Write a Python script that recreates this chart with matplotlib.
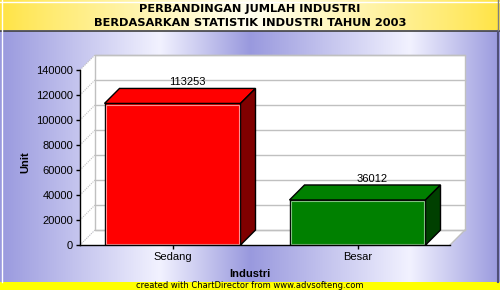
import numpy as np
import matplotlib.pyplot as plt
from matplotlib.patches import Polygon, Rectangle

# data
categories = ["Sedang", "Besar"]
values = [113253, 36012]
face_colors = ["#ff0000", "#008000"]
side_colors = ["#800000", "#004000"]
light_edges = ["#ff9090", "#80c080"]
y_ticks = [0, 20000, 40000, 60000, 80000, 100000, 120000, 140000]

title_lines = ["PERBANDINGAN JUMLAH INDUSTRI",
               "BERDASARKAN STATISTIK INDUSTRI TAHUN 2003"]
footer = "created with ChartDirector from www.advsofteng.com"

W, H = 500, 290
fig = plt.figure(figsize=(W / 100, H / 100), dpi=100)

# ---- background panels (pixel coords) ----
bg = fig.add_axes([0, 0, 1, 1], zorder=-10)
bg.set_xlim(0, W)
bg.set_ylim(H, 0)
bg.axis("off")

xs = np.arange(W) + 0.5
dark = np.array([0.60, 0.60, 0.87])
light = np.array([0.95, 0.95, 1.00])
t = np.interp(xs, [0, 160, 250, 410, 500], [0, 1, 0, 1, 0])
row = dark + (light - dark) * t[:, None]
bg.imshow(np.tile(row[None], (4, 1, 1)), extent=[0, W, 282, 31],
          aspect="auto", interpolation="bilinear")

yel = np.array([1.0, 0.89, 0.25])
pale = np.array([1.0, 1.0, 0.94])
t2 = np.interp(xs, [0, 250, 500], [0, 1, 0]) ** 0.8
row2 = yel + (pale - yel) * t2[:, None]
bg.imshow(np.tile(row2[None], (4, 1, 1)), extent=[0, W, 30, 0],
          aspect="auto", interpolation="bilinear")
bg.add_patch(Rectangle((0, 282), W, 8, color="#ffff00", lw=0))
bg.plot([0, W], [30.5, 30.5], color="#404040", lw=1.2)
bg.plot([1.5, 1.5], [0, 282], color="white", lw=1)
bg.plot([0, W], [1.5, 1.5], color="white", lw=1)
bg.plot([497.5, 497.5], [31, 282], color="#505078", lw=1.5)
bg.plot([497.5, 497.5], [0, 30], color="#808080", lw=1)

fig.text(0.5, 1 - 9 / H, title_lines[0], ha="center", va="center",
         fontsize=8.2, fontweight="bold", family="DejaVu Sans")
fig.text(0.5, 1 - 23 / H, title_lines[1], ha="center", va="center",
         fontsize=8.2, fontweight="bold", family="DejaVu Sans")
fig.text(0.5, 1 - 285.5 / H, footer, ha="center", va="center",
         fontsize=6, family="DejaVu Sans")

# ---- main plot ----
left_px, right_px, zero_px, top_px = 80, 450, 245, 70
ax = fig.add_axes([left_px / W, 1 - zero_px / H,
                   (right_px - left_px) / W, (zero_px - top_px) / H])
ax.set_facecolor("none")
ymax = y_ticks[-1]
ax.set_xlim(-0.5, len(categories) - 0.5)
ax.set_ylim(0, ymax)

depth_px = 15
dx = depth_px * len(categories) / (right_px - left_px)
dy = depth_px * ymax / (zero_px - top_px)
x_lo, x_hi = -0.5, len(categories) - 0.5

grid_c = "#c0c0c0"
# floor, left wall, back wall
ax.add_patch(Polygon([(x_lo, 0), (x_hi, 0), (x_hi + dx, dy), (x_lo + dx, dy)],
                     closed=True, fc="white", ec="none", clip_on=False, zorder=0))
ax.add_patch(Polygon([(x_lo, 0), (x_lo + dx, dy), (x_lo + dx, ymax + dy), (x_lo, ymax)],
                     closed=True, fc="white", ec="none", clip_on=False, zorder=0))
ax.add_patch(Rectangle((x_lo + dx, dy), x_hi - x_lo, ymax, fc="white", ec=grid_c,
                       lw=1, clip_on=False, zorder=0))
for v in y_ticks:
    ax.plot([x_lo + dx, x_hi + dx], [v + dy, v + dy], color=grid_c, lw=1,
            clip_on=False, zorder=1)
    ax.plot([x_lo, x_lo + dx], [v, v + dy], color=grid_c, lw=0.8, ls=(0, (1, 1)),
            clip_on=False, zorder=1)
ax.plot([x_hi, x_hi + dx], [0, dy], color=grid_c, lw=1, clip_on=False, zorder=1)

# 3D bars
bw = 136 / 185
ix = 1.5 * len(categories) / (right_px - left_px)
iy = 1.5 * ymax / (zero_px - top_px)
for i, v in enumerate(values):
    x0, x1 = i - bw / 2, i + bw / 2
    ax.bar(i, v, width=bw, color=face_colors[i], edgecolor="black", lw=1, zorder=3)
    ax.add_patch(Rectangle((x0 + ix, iy), bw - 2 * ix, v - 2 * iy, fill=False,
                           ec=light_edges[i], lw=0.8, zorder=4))
    ax.add_patch(Polygon([(x0, v), (x1, v), (x1 + dx, v + dy), (x0 + dx, v + dy)],
                         closed=True, fc=face_colors[i], ec="black", lw=1,
                         clip_on=False, zorder=3))
    ax.add_patch(Polygon([(x1, 0), (x1 + dx, dy), (x1 + dx, v + dy), (x1, v)],
                         closed=True, fc=side_colors[i], ec="black", lw=1,
                         clip_on=False, zorder=3))
    ax.annotate(str(v), (i + dx, v + dy), xytext=(0, 1), textcoords="offset points",
                ha="center", va="bottom", fontsize=8, family="Liberation Sans",
                annotation_clip=False)

ax.set_xticks(range(len(categories)))
ax.set_xticklabels(categories)
ax.set_yticks(y_ticks)
ax.set_yticklabels([str(v) for v in y_ticks])
for lab in ax.get_xticklabels() + ax.get_yticklabels():
    lab.set_fontfamily("Liberation Sans")
    lab.set_fontsize(8)
ax.tick_params(direction="out", length=3, width=1, color="black", pad=2)
for s in ["top", "right"]:
    ax.spines[s].set_visible(False)
for s in ["left", "bottom"]:
    ax.spines[s].set_color("black")
    ax.spines[s].set_linewidth(1)
    ax.spines[s].set_zorder(5)

fig.text(250 / W, 1 - 274 / H, "Industri", ha="center", va="center",
         fontsize=8, fontweight="bold", family="Liberation Sans")
fig.text(25 / W, 1 - 162 / H, "Unit", ha="center", va="center", rotation=90,
         fontsize=8, fontweight="bold", family="Liberation Sans")

fig.savefig("out.png", dpi=100)
